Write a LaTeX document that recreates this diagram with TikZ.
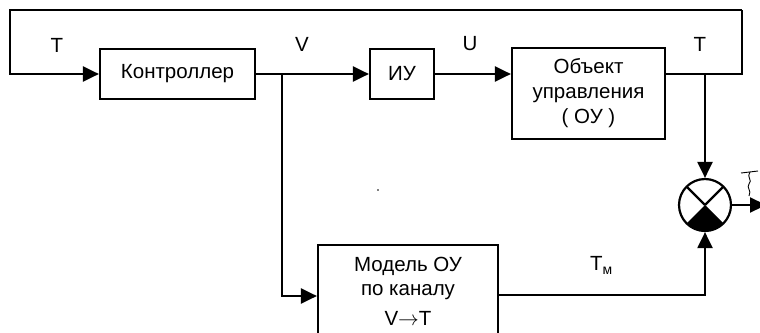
\documentclass[tikz,border=0pt]{standalone}
\usepackage{fontspec}
\setmainfont{Liberation Sans}
\usetikzlibrary{arrows.meta}
\begin{document}
\begin{tikzpicture}[x=1pt,y=-1pt,
  every node/.style={font=\fontsize{20.5}{25}\selectfont},
  blk/.style={draw,line width=2.2pt,rectangle,inner sep=0pt,align=center},
  conn/.style={line width=2.2pt},
  arr/.style={conn,-{Triangle[length=16pt,width=15pt]}},
  lbl/.style={inner sep=0pt}]
\useasboundingbox (0,0) rectangle (760,332);
% blocks
\node[blk,minimum width=155pt,minimum height=50pt] (ctrl) at (177.5,74) {Контроллер};
\node[blk,minimum width=64pt,minimum height=50pt] (iu) at (402,74) {ИУ};
\node[blk,minimum width=153pt,minimum height=91pt] (obj) at (588.5,93.5) {Объект\\управления\\( ОУ )};
\node[blk,minimum width=180pt,minimum height=100pt] (model) at (408,295) {};
\node[lbl] (mt1) at (408,266) {Модель ОУ};
\node[lbl] (mt2) at (408,292) {по каналу};
\node[lbl] (mt3) at (408,318) {V$\rightarrow$T};
\node[draw,circle,line width=2.2pt,minimum size=52pt,inner sep=0pt] (comp) at (705,205) {};
\fill (comp.center) -- ++(45:26) arc[start angle=45,end angle=135,radius=26] -- cycle;
\draw[conn] (comp.center) -- ++(225:26);
\draw[conn] (comp.center) -- ++(315:26);
% coordinates
\coordinate (inL) at (10,74);
\coordinate (tl) at (10,10);
\coordinate (tr) at (742,10);
\coordinate (outR) at (742,74);
\coordinate (brV) at (282,74);
\coordinate (brT) at (705,74);
\coordinate (mdl) at (282,296);
\coordinate (mdr) at (705,295);
\coordinate (outE) at (766,205);
% connectors
\draw[arr] (tr) -- (tl) -- (inL) -- (ctrl.west);
\draw[arr] (ctrl.east) -- (iu.west);
\draw[arr] (iu.east) -- (obj.west |- iu.east);
\draw[conn] (obj.east |- outR) -- (outR) -- (tr);
\draw[arr] (brV) -- (mdl) -- (model.west |- mdl);
\draw[arr] (brT) -- (comp.north);
\draw[arr] (model.east |- mdr) -- (mdr) -- (comp.south);
\draw[arr] (comp.east) -- (outE);
% labels
\node[lbl] (lT1) at (57,45) {T};
\node[lbl] (lV) at (302,44) {V};
\node[lbl] (lU) at (470,44) {U};
\node[lbl] (lT2) at (700,44) {T};
\node[lbl,anchor=base west] (lTm) at (590,270) {T{\fontsize{14}{14}\selectfont\raisebox{-4pt}{м}}};
% cut-off mark
\draw[line width=0.9pt] (741,173) -- (758,171);
\draw[line width=0.9pt] (750,172) .. controls (746,177) and (753,180) .. (749,184) .. controls (746,188) and (752,190) .. (749,196);
\fill (378,190) circle[radius=0.8];
\end{tikzpicture}
\end{document}
